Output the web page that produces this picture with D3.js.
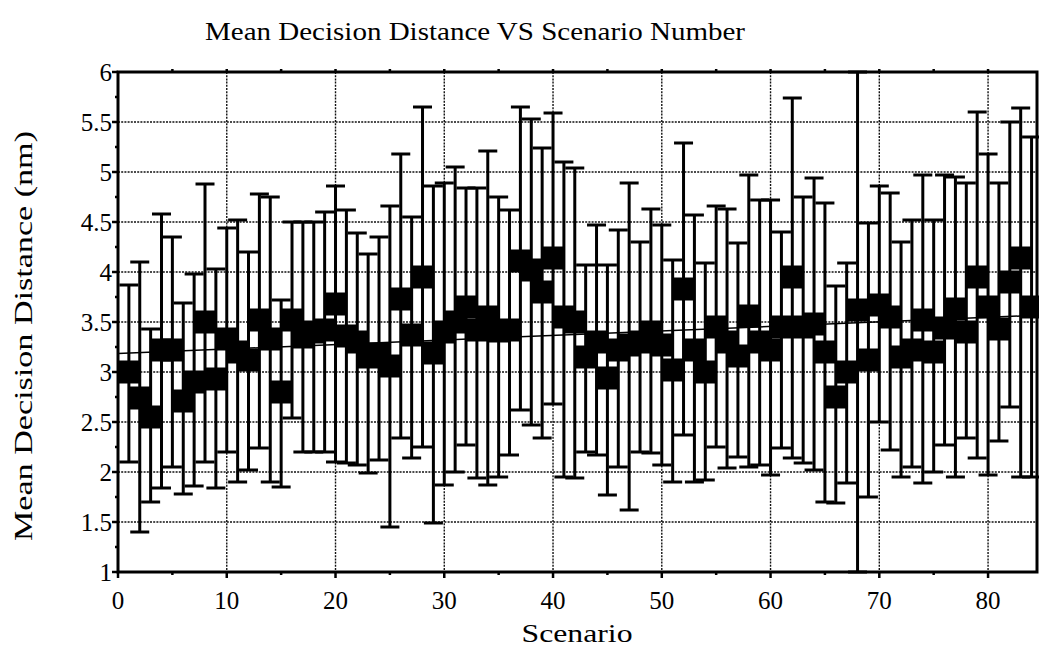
<!DOCTYPE html>
<html>
<head>
<meta charset="utf-8">
<script src="https://cdn.jsdelivr.net/npm/d3@7"></script>
<style>
  html, body { margin: 0; padding: 0; background: #fff; }
  svg { display: block; }
  text { font-family: "Liberation Serif", "DejaVu Serif", serif; fill: #000; }
</style>
</head>
<body>
<svg id="chart" width="1039" height="651"></svg>
<script>
// Mean decision distance (nm) per scenario, with upper and lower bounds
const scenarios = d3.range(1, 85);
const meanDist = [
  3.00, 2.74, 2.55, 3.22, 3.22, 2.71, 2.90, 3.50, 2.93, 3.33,
  3.20, 3.12, 3.52, 3.33, 2.80, 3.52, 3.35, 3.40, 3.42, 3.68,
  3.36, 3.30, 3.15, 3.18, 3.06, 3.73, 3.37, 3.95, 3.19, 3.40,
  3.50, 3.65, 3.42, 3.55, 3.41, 3.42, 4.11, 4.02, 3.80, 4.14,
  3.55, 3.50, 3.15, 3.30, 2.94, 3.22, 3.27, 3.30, 3.40, 3.27,
  3.02, 3.83, 3.22, 3.00, 3.45, 3.30, 3.16, 3.56, 3.30, 3.22,
  3.45, 3.95, 3.45, 3.48, 3.20, 2.75, 3.00, 3.62, 3.12, 3.67,
  3.55, 3.15, 3.22, 3.52, 3.20, 3.44, 3.63, 3.40, 3.95, 3.65,
  3.43, 3.90, 4.14, 3.65
];
const upperDist = [
  3.87, 4.10, 3.43, 4.58, 4.35, 3.69, 3.98, 4.88, 4.03, 4.44,
  4.52, 4.20, 4.78, 4.75, 3.72, 4.50, 4.50, 4.50, 4.60, 4.86,
  4.62, 4.39, 4.18, 4.35, 4.66, 5.18, 4.55, 5.65, 4.86, 4.89,
  5.05, 4.84, 4.84, 5.21, 4.75, 4.62, 5.65, 5.53, 5.24, 5.59,
  5.10, 5.04, 4.07, 4.47, 4.07, 4.42, 4.89, 4.30, 4.63, 4.47,
  4.12, 5.29, 4.57, 4.09, 4.66, 4.63, 4.29, 4.97, 4.72, 4.72,
  4.40, 5.74, 4.75, 4.94, 4.69, 3.86, 4.09, 6.00, 4.49, 4.86,
  4.79, 4.30, 4.52, 4.97, 4.52, 4.97, 4.95, 4.89, 5.60, 5.18,
  4.89, 5.50, 5.64, 5.35
];
const lowerDist = [
  2.10, 1.40, 1.70, 1.84, 2.05, 1.78, 1.86, 2.10, 1.84, 2.20,
  1.90, 2.02, 2.24, 1.90, 1.85, 2.54, 2.20, 2.20, 2.20, 2.10,
  2.09, 2.07, 1.99, 2.12, 1.45, 2.34, 2.14, 2.25, 1.49, 1.87,
  2.00, 2.27, 1.94, 1.87, 1.95, 2.17, 2.62, 2.47, 2.34, 2.68,
  1.95, 1.94, 2.20, 2.17, 1.77, 2.05, 1.62, 2.20, 2.19, 2.07,
  1.90, 2.37, 1.90, 1.92, 2.25, 2.04, 2.15, 2.05, 2.07, 1.97,
  2.24, 2.14, 2.09, 2.02, 1.70, 1.69, 1.89, 1.00, 1.75, 2.50,
  2.22, 1.95, 2.05, 1.89, 2.00, 2.27, 1.95, 2.34, 2.14, 1.97,
  2.31, 2.65, 1.95, 1.95
];
const yTickValues = [1, 1.5, 2, 2.5, 3, 3.5, 4, 4.5, 5, 5.5, 6];
const yTickLabels = ["1", "1.5", "2", "2.5", "3", "3.5", "4", "4.5", "5", "5.5", "6"];
const xTickValues = [0, 10, 20, 30, 40, 50, 60, 70, 80];
const xTickLabels = ["0", "10", "20", "30", "40", "50", "60", "70", "80"];

const svg = d3.select("#chart");
const x = d3.scaleLinear().domain([0, 84.5]).range([118, 1037]);
const y = d3.scaleLinear().domain([1, 6]).range([572, 72]);
const [x0, x1] = x.range();
const [yb, yt] = y.range();

// dotted grid
const grid = svg.append("g").attr("stroke", "#111").attr("stroke-width", 1.4)
  .attr("stroke-dasharray", "2,1.2");
grid.selectAll("line.h").data(yTickValues.filter(v => v > 1 && v < 6)).join("line")
  .attr("class", "h").attr("x1", x0).attr("x2", x1)
  .attr("y1", d => y(d)).attr("y2", d => y(d));
grid.selectAll("line.v").data(xTickValues.filter(v => v > 0)).join("line")
  .attr("class", "v").attr("y1", yt).attr("y2", yb)
  .attr("x1", d => x(d)).attr("x2", d => x(d));

// error bars
const rows = scenarios.map((s, i) => ({ s, m: meanDist[i], hi: upperDist[i], lo: lowerDist[i] }));
const bars = svg.append("g").attr("stroke", "#000").attr("stroke-width", 3);
bars.selectAll("line.stem").data(rows).join("line").attr("class", "stem")
  .attr("x1", d => x(d.s)).attr("x2", d => x(d.s))
  .attr("y1", d => y(d.hi)).attr("y2", d => y(d.lo));
const capHalf = 9.5;
bars.selectAll("line.capHi").data(rows).join("line").attr("class", "capHi")
  .attr("x1", d => x(d.s) - capHalf).attr("x2", d => x(d.s) + capHalf)
  .attr("y1", d => y(d.hi)).attr("y2", d => y(d.hi));
bars.selectAll("line.capLo").data(rows).join("line").attr("class", "capLo")
  .attr("x1", d => x(d.s) - capHalf).attr("x2", d => x(d.s) + capHalf)
  .attr("y1", d => y(d.lo)).attr("y2", d => y(d.lo));

// mean markers
const sq = 23;
svg.append("g").selectAll("rect").data(rows).join("rect")
  .attr("x", d => x(d.s) - sq / 2).attr("y", d => y(d.m) - sq / 2)
  .attr("width", sq).attr("height", sq).attr("fill", "#000");

// least-squares trend of the means
const mx = d3.mean(rows, d => d.s), my = d3.mean(rows, d => d.m);
const slope = d3.sum(rows, d => (d.s - mx) * (d.m - my)) / d3.sum(rows, d => (d.s - mx) ** 2);
const icpt = my - slope * mx;
const xs = x.domain();
svg.append("line")
  .attr("x1", x(xs[0])).attr("x2", x(xs[1]))
  .attr("y1", y(icpt + slope * xs[0])).attr("y2", y(icpt + slope * xs[1]))
  .attr("stroke", "#000").attr("stroke-width", 1.5);

// frame
svg.append("rect").attr("x", x0).attr("y", yt).attr("width", x1 - x0).attr("height", yb - yt)
  .attr("fill", "none").attr("stroke", "#000").attr("stroke-width", 3);

// ticks
const tk = svg.append("g").attr("stroke", "#000").attr("stroke-width", 2.5);
tk.selectAll("line.ymaj").data(yTickValues).join("line").attr("class", "ymaj")
  .attr("x1", x0 - 6).attr("x2", x0).attr("y1", d => y(d)).attr("y2", d => y(d));
tk.selectAll("line.ymin").data(d3.range(1.25, 6, 0.5)).join("line").attr("class", "ymin")
  .attr("x1", x0 - 3).attr("x2", x0).attr("y1", d => y(d)).attr("y2", d => y(d));
tk.selectAll("line.xmaj").data(xTickValues).join("line").attr("class", "xmaj")
  .attr("x1", d => x(d)).attr("x2", d => x(d)).attr("y1", yb).attr("y2", yb + 6);
tk.selectAll("line.xmin").data(d3.range(5, 85, 10)).join("line").attr("class", "xmin")
  .attr("x1", d => x(d)).attr("x2", d => x(d)).attr("y1", yb).attr("y2", yb + 3);
tk.selectAll("line.xtop").data(d3.range(5, 85, 5)).join("line").attr("class", "xtop")
  .attr("x1", d => x(d)).attr("x2", d => x(d)).attr("y1", yt - 3).attr("y2", yt);

// tick labels
svg.append("g").selectAll("text").data(yTickValues).join("text")
  .attr("x", x0 - 6).attr("y", d => y(d)).attr("dy", "0.35em")
  .attr("text-anchor", "end").attr("font-size", 25)
  .text((d, i) => yTickLabels[i]);
svg.append("g").selectAll("text").data(xTickValues).join("text")
  .attr("x", d => x(d)).attr("y", 609)
  .attr("text-anchor", "middle").attr("font-size", 25)
  .text((d, i) => xTickLabels[i]);

// titles
svg.append("text").attr("x", 475).attr("y", 40).attr("text-anchor", "middle")
  .attr("font-size", 26).attr("textLength", 540).attr("lengthAdjust", "spacingAndGlyphs")
  .text("Mean Decision Distance VS Scenario Number");
svg.append("text").attr("x", 577).attr("y", 642).attr("text-anchor", "middle")
  .attr("font-size", 26).attr("textLength", 111).attr("lengthAdjust", "spacingAndGlyphs")
  .text("Scenario");
svg.append("text").attr("transform", "translate(32,336) rotate(-90)")
  .attr("text-anchor", "middle").attr("font-size", 26)
  .attr("textLength", 410).attr("lengthAdjust", "spacingAndGlyphs")
  .text("Mean Decision Distance (nm)");
</script>
</body>
</html>
